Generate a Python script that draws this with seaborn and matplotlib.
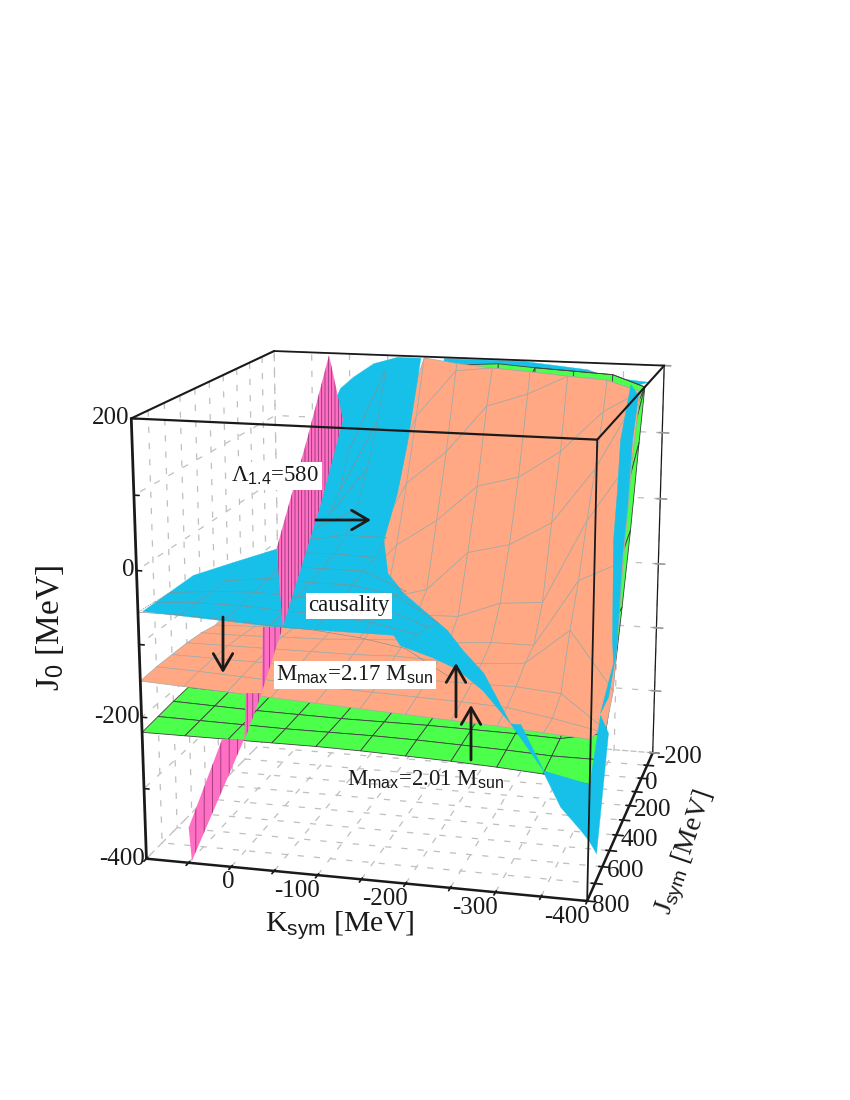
import numpy as np
import matplotlib
matplotlib.use("Agg")
import matplotlib.pyplot as plt
import seaborn as sns
from matplotlib.patches import FancyArrowPatch
from mpl_toolkits.mplot3d.art3d import Poly3DCollection

sns.set_theme(style="white")
plt.rcParams['font.family'] = ['Liberation Serif', 'DejaVu Sans']
plt.rcParams['text.color'] = 'k'
plt.rcParams['xtick.color'] = 'k'
plt.rcParams['ytick.color'] = 'k'
plt.rcParams['grid.color'] = '0.75'
plt.rcParams['grid.linewidth'] = 0.9
plt.rcParams['grid.linestyle'] = (0, (5, 8))
plt.rcParams['mathtext.fontset'] = 'custom'
plt.rcParams['mathtext.rm'] = 'Liberation Serif'
plt.rcParams['mathtext.sf'] = 'Liberation Sans'
plt.rcParams['mathtext.default'] = 'rm'
plt.rcParams['hatch.linewidth'] = 0.55

colors = sns.color_palette(['#16C0E8', '#FFA883', '#4BFF4B', '#FF70C4'])
blue, orange, green, pink = colors

ksym = [100, 50, 0, -50, -100, -150, -200, -250, -300, -350, -400]
jsym = [800, 700, 600, 500, 400, 300, 200, 100, 0, -100, -200]
j0_ticks = [200, 100, 0, -100, -200, -300, -400]
ksym_labels = ['', '', '0', '', '-100', '', '-200', '', '-300', '', '-400']
jsym_labels = ['800', '', '600', '', '400', '', '200', '', '0', '', '-200']
j0_labels = ['200', '', '0', '', '-200', '', '-400']

# J0 on the (Ksym, Jsym) mesh, 200 = surface has left the box through the top
orange_j0 = [
 [-150,-153,-156,-159,-162,-165,-168,-171,-174,-178,-182],
 [-148,-150,-153,-156,-159,-161,-163,-165,-168,-178,-190],
 [-148,-149,-150,-152,-154,-155,-158,-158,-158,-163,-208],
 [-148,-148,-148,-148,-148,-146,-148,-148,-143,-93,-173],
 [-150,-150,-148,-147,-143,-140,-140,-135,-135,-40,-10],
 [-155,-153,-150,-145,-135,-120,-118,-95,-90,30,120],
 [-150,-150,-145,-135,-115,-98,-40,-25,10,90,200],
 [-150,-145,-140,-115,-50,-10,44,60,100,160,200],
 [-145,-140,-120,-80,30,80,150,170,200,200,200],
 [-140,-135,-100,-30,120,190,200,200,200,200,200],
 [-135,-130,-80,30,200,200,200,200,200,200,200]]
orange_cut = [-200,-200,-200,-200,-180,-110,-60,-26,20,55,200]

green_j0 = [
 [-221,-221,-221,-221,-221,-222,-224,-226,-229,-233,-242],
 [-218,-219,-220,-221,-221,-221,-222,-224,-226,-229,-229],
 [-215,-217,-219,-220,-221,-221,-221,-222,-223,-225,-213],
 [-213,-215,-217,-219,-220,-220,-219,-219,-219,-218,-158],
 [-211,-213,-215,-217,-218,-218,-213,-208,-203,-198,-73],
 [-216,-218,-220,-222,-222,-215,-205,-195,-185,-175,20],
 [-215,-216,-218,-218,-215,-200,-185,-170,-150,-130,130],
 [-214,-215,-216,-214,-200,-170,-140,-120,-90,-60,200],
 [-212,-214,-214,-200,-165,-110,-60,-30,10,60,200],
 [-210,-212,-210,-180,-110,-20,100,200,200,200,200],
 [-208,-210,-205,-150,-40,190,200,200,200,200,200]]
green_cut = [-200,-200,-200,-200,-200,-170,-130,-90,-60,-30,130]

# causality surface, visible pieces (Ksym, Jsym, J0)
blue_main = [(10,-180,149),(-7,-180,167),(-34,-180,189),(-65,-180,200),(-95,-180,200),(-95,-100,133),
             (-94,-50,84),(-94,50,21),(-90,150,-36),(-108,250,-69),(-134,300,-89),(-166,400,-91),
             (-210,500,-104),(-234,550,-122),(-263,600,-142),(-314,800,-169),(-284,800,-128),
             (-256,800,-102),(-229,800,-89),(-194,800,-76),(-187,800,-63),(-65,800,-63),(95,800,-54),
             (103,430,-61),(102,150,-83),(97,-180,-108),(65,-180,3),(17,-180,131)]
blue_wedge = [(-314,800,-169),(-325,800,-169),(-350,800,-228)]
blue_tail = [(-349,800,-228),(-402,800,-242),(-404,800,-323),(-391,800,-304),(-369,800,-275)]
blue_corner = [(-400,797,-236),(-400,682,-172),(-400,564,-219),(-400,694,-359),(-400,779,-325)]
blue_right = [(-381,100,200),(-400,493,166),(-400,519,103),(-400,558,42),(-400,538,-96),(-400,515,-131),
              (-400,683,-169),(-400,576,-167),(-400,478,-123),(-400,421,-1),(-400,364,60),(-400,314,146),(-400,238,199)]
blue_back = [(-124,-190,200),(-225,-190,200),(-309,-150,195),(-334,-150,185),(-384,-150,180),(-326,-150,158),(-124,-150,170)]

# mesh lines on the causality surface
blue_k = [100, 50, 0, -50, -100, -150, -200, -250]
blue_j = [800, 700, 600, 500, 400, 300, 200, 100, 0, -100, -180]
nan = float('nan')
blue_j0 = [
 [-56,-56,-58,-62,-64,-70,-80,-115],
 [-58,-55,-55,-58,-60,-66,-78,nan],
 [-60,-55,-52,-54,-56,-62,-85,nan],
 [nan,-55,-48,-50,-50,-60,-95,nan],
 [nan,nan,-45,-45,-45,-70,nan,nan],
 [nan,nan,-40,-38,-40,nan,nan,nan],
 [nan,nan,-35,-25,-25,nan,nan,nan],
 [nan,nan,-30,0,nan,nan,nan,nan],
 [nan,nan,-25,50,nan,nan,nan,nan],
 [nan,nan,0,110,nan,nan,nan,nan],
 [nan,nan,50,180,nan,nan,nan,nan]]

# Lambda_1.4 = 580 sheet, cut by the other surfaces
pink_top = [(27,-200,197),(-5,-100,109),(4,50,-6),(15,300,-151),(45,150,-58),(35,-50,82)]
pink_second = [(40,300,-153),(15,300,-151),(18,450,-221)]
pink_third = [(38,450,-225),(18,450,-223),(24,550,-275)]
pink_bottom = [(51,550,-275),(24,550,-272),(46,800,-397),(58,750,-362)]


def surface_grid(table, cut):
    z = np.array(table, dtype=float)
    k, j = np.meshgrid(ksym, jsym)
    j = j.astype(float)
    for c in range(z.shape[1]):
        j[z[:, c] >= 200, c] = cut[c]
    return k, j, z


def add_patch(ax, pts, color, order, hatch=None):
    poly = Poly3DCollection([pts], facecolors=[color], edgecolors='#8A3070' if hatch else [color],
                            linewidths=0 if hatch else 0.3, hatch=hatch, zorder=order)
    ax.add_collection3d(poly, autolim=False)


fig = plt.figure(figsize=(8.5, 11), dpi=100)
ax = fig.add_axes([13/850, 95/1100, 786/850, 786/1100], projection='3d', computed_zorder=False)
ax.set_proj_type('persp', focal_length=0.511)
ax.view_init(elev=15, azim=-76)
ax.set_box_aspect((1, 1, 1), zoom=0.912)
ax.patch.set_alpha(0)

ax.set_xticks(ksym)
ax.set_xticklabels([''] * len(ksym))
ax.set_yticks(jsym)
ax.set_yticklabels(jsym_labels, fontsize=18, ha='left', va='center')
ax.set_zticks(j0_ticks)
ax.set_zticklabels([''] * len(j0_ticks))
ax.tick_params(axis='y', pad=-5)
ax.tick_params(axis='z', color='0.6')
for axis in (ax.xaxis, ax.yaxis, ax.zaxis):
    axis.set_pane_color((1, 1, 1, 0))
    axis.pane.set_edgecolor('k')
    axis.line.set_color('k')
    axis.line.set_linewidth(1.8)
ax.zaxis.line.set_linewidth(0.9)

add_patch(ax, blue_back, blue, 2)
k, j, z = surface_grid(green_j0, green_cut)
ax.plot_surface(k, j, z, color=green, shade=False, rstride=1, cstride=1, edgecolor='0.25', linewidth=0.6, zorder=3)
k, j, z = surface_grid(orange_j0, orange_cut)
ax.plot_surface(k, j, z, color=orange, shade=False, rstride=1, cstride=1, edgecolor='0.66', linewidth=0.5, zorder=4)

for piece in (blue_main, blue_wedge, blue_tail, blue_corner, blue_right):
    add_patch(ax, piece, blue, 5)

z = np.array(blue_j0)
for r, jval in enumerate(blue_j):
    ax.plot(blue_k, [jval] * len(blue_k), z[r], color='0.55', lw=0.45, zorder=6)
for c, kval in enumerate(blue_k):
    ax.plot([kval] * len(blue_j), blue_j, z[:, c], color='0.55', lw=0.45, ls=(0, (3, 1.5)), zorder=6)

add_patch(ax, pink_top, pink, 7, hatch='|||||')
add_patch(ax, pink_second, pink, 7, hatch='|||')
add_patch(ax, pink_third, pink, 7, hatch='|||')
add_patch(ax, pink_bottom, pink, 7, hatch='||')

# front edges of the box
for xs, ys, zs, w in [([100, -400], [800, 800], [200, 200], 1.6), ([100, 100], [800, 800], [200, -400], 2.0),
                      ([-400, -400], [800, 800], [200, -400], 1.3), ([-400, -400], [800, -200], [200, 200], 1.5),
                      ([100, 100], [800, -200], [200, 200], 1.5), ([100, -400], [-200, -200], [200, 200], 1.3)]:
    ax.plot(xs, ys, zs, color='k', lw=w, zorder=8)

# J0 axis on the left front edge, Ksym labels under the front edge
for val, lab in zip(j0_ticks, j0_labels):
    ax.plot([100, 94], [800, 800], [val, val], color='k', lw=1.2, zorder=8)
    if lab:
        ax.text(102, 800, val, lab, fontsize=18, ha='right', va='center', zorder=9)
for val, lab in zip(ksym, ksym_labels):
    if lab:
        ax.text(val - 3, 800, -422, lab, fontsize=18, ha='right', va='center', zorder=9)

ax.set_xlim(100, -400, view_margin=0)
ax.set_ylim(800, -200, view_margin=0)
ax.set_zlim(-400, 200, view_margin=0)


def label(px, py, s, size=16.5, box=False, rot=0):
    fig.text(px/850, 1-py/1100, s, fontsize=size, ha='center', va='center', rotation=rot,
             bbox=dict(fc='w', ec='none', pad=2) if box else None, zorder=10)


def arrow(x0, y0, x1, y1):
    fig.add_artist(FancyArrowPatch((x0/850, 1-y0/1100), (x1/850, 1-y1/1100), transform=fig.transFigure,
                                   arrowstyle='->,head_length=0.6,head_width=0.35', color='k', lw=2,
                                   mutation_scale=20, shrinkA=0, shrinkB=0, zorder=11))


label(275, 476, 'Λ$_{\\mathsf{1.4}}$=580', box=True)
label(349, 606, 'causality', box=True)
label(355, 675, 'M$_{\\mathsf{max}}$=2.17 M$_{\\mathsf{sun}}$', box=True)
label(426, 780, 'M$_{\\mathsf{max}}$=2.01 M$_{\\mathsf{sun}}$')
label(50, 628, 'J$_{\\mathsf{0}}$ [MeV]', size=24, rot=90)
label(340, 925, 'K$_{\\mathsf{sym}}$ [MeV]', size=21.5)
label(686, 853, 'J$_{\\mathsf{sym}}$ [MeV]', size=20, rot=71)

arrow(316, 520, 371, 520)
arrow(223, 617, 223, 673)
arrow(456, 717, 456, 663)
arrow(471, 760, 471, 705)

fig.savefig('out.png', dpi=100)
